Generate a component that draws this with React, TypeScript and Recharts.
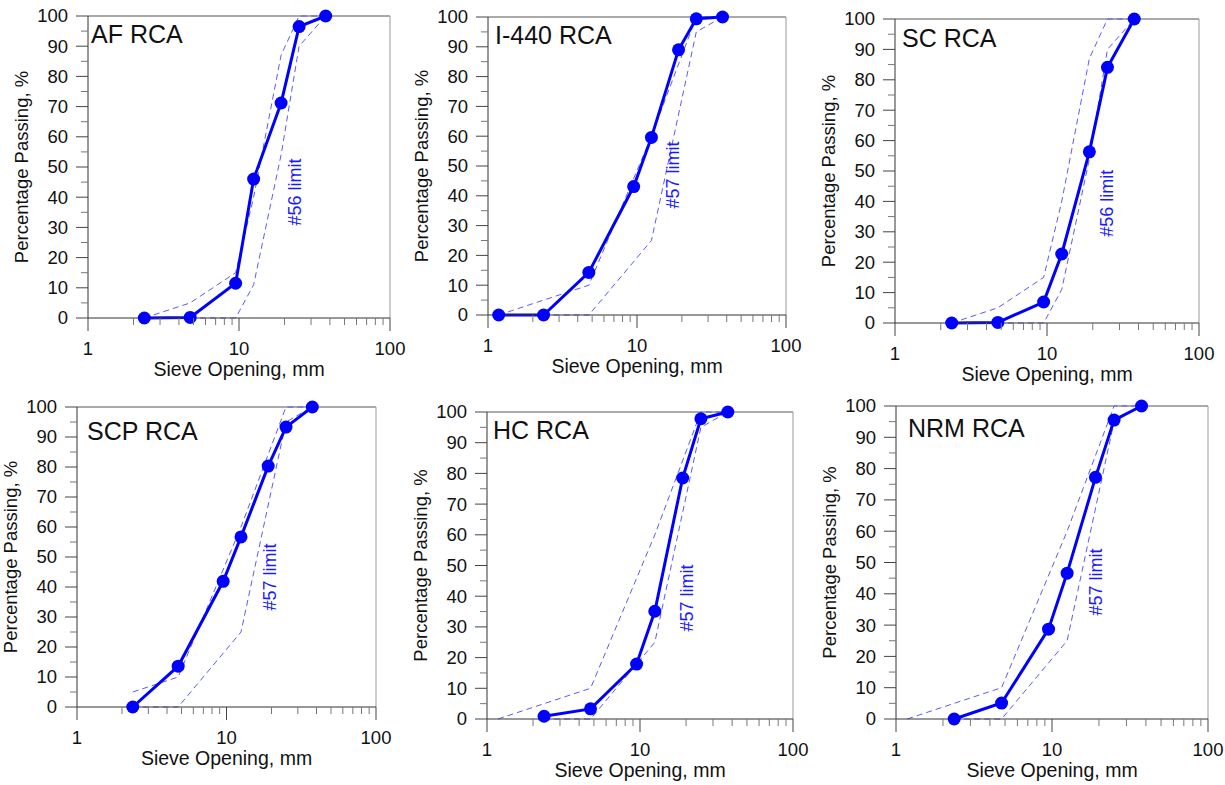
import React from "react";
import {
  LineChart,
  Line,
  XAxis,
  YAxis,
  ReferenceLine,
  ReferenceDot,
} from "recharts";

// sieve sizes, mm
const sieveMm = [1.18, 2.36, 4.75, 9.5, 12.5, 19, 25, 37.5];

// percentage passing per sample (null = not tested)
const afPassing = [null, 0, 0.2, 11.5, 46, 71.2, 96.5, 100];
const i440Passing = [0, 0, 14.3, 43.1, 59.6, 89, 99.4, 100];
const scPassing = [null, 0, 0.2, 6.9, 22.7, 56.3, 84.1, 100];
const scpPassing = [null, 0, 13.6, 41.9, 56.7, 80.3, 93.3, 100];
const hcPassing = [null, 0.9, 3.3, 17.9, 35.1, 78.5, 97.8, 100];
const nrmPassing = [null, 0, 5.1, 28.7, 46.6, 77.2, 95.5, 100];

// gradation limits
const upper56Sieve = [2.36, 4.75, 9.5, 12.5, 19, 25, 37.5];
const upper56 = [0, 5, 15, 40, 87, 100, 100];
const lower56Sieve = [4.75, 9.5, 12.5, 19, 25, 37.5];
const lower56 = [0, 0, 11, 54, 90, 100];

const upper57Sieve = [1.18, 2.36, 4.75, 12.5, 25, 37.5];
const upper57 = [0, 5, 10, 60, 100, 100];
const lower57Sieve = [2.36, 4.75, 12.5, 25, 37.5];
const lower57 = [0, 0, 25, 95, 100];

// axis ticks
const xMajor = [1, 10, 100];
const xMinor = [2, 3, 4, 5, 6, 7, 8, 9, 20, 30, 40, 50, 60, 70, 80, 90];
const yMajor = [0, 10, 20, 30, 40, 50, 60, 70, 80, 90, 100];
const yMinor = [5, 15, 25, 35, 45, 55, 65, 75, 85, 95];

const FONT = '"Liberation Sans", Arial, sans-serif';
const BLUE = "#0000ff";
const LIMIT_BLUE = "#5a5aff";

const toRows = (xs: number[], ys: (number | null)[]) =>
  xs
    .map((x, i) => ({ x, y: ys[i] }))
    .filter((r) => r.y !== null && r.y !== undefined);

const limits: Record<string, { upper: any[]; lower: any[] }> = {
  "56": {
    upper: toRows(upper56Sieve, upper56),
    lower: toRows(lower56Sieve, lower56),
  },
  "57": {
    upper: toRows(upper57Sieve, upper57),
    lower: toRows(lower57Sieve, lower57),
  },
};

// layout: plot box [left, top, width, height], title offset, limit label (data coords)
const panels = [
  { name: "AF RCA", values: afPassing, limit: "56", box: [88, 16, 302, 302], title: [3, 26], tag: [23.5, 41.7], minUpper: 0 },
  { name: "I-440 RCA", values: i440Passing, limit: "57", box: [488, 17, 298, 298], title: [7, 26], tag: [17.4, 47], minUpper: 0 },
  { name: "SC RCA", values: scPassing, limit: "56", box: [895, 19, 304, 304], title: [7, 27], tag: [24.7, 39.4], minUpper: 0 },
  { name: "SCP RCA", values: scpPassing, limit: "57", box: [77, 407, 299, 300], title: [10, 32], tag: [19.5, 43.3], minUpper: 2 },
  { name: "HC RCA", values: hcPassing, limit: "57", box: [487, 412, 306, 307], title: [6, 26], tag: [20.3, 39.4], minUpper: 0 },
  { name: "NRM RCA", values: nrmPassing, limit: "57", box: [896, 406, 312, 313], title: [12, 30], tag: [19.1, 43.8], minUpper: 0 },
];

function XTick(props: any) {
  const { x, y, payload } = props;
  const major = xMajor.includes(payload.value);
  return (
    <g>
      <line x1={x} x2={x} y1={y} y2={y + (major ? 13 : 7)} stroke={major ? "#444" : "#777"} strokeWidth={1} />
      {major && (
        <text x={x} y={y + 31} dy="0.35em" textAnchor="middle" fontSize={18.5} fontFamily={FONT} fill="#111">
          {payload.value}
        </text>
      )}
    </g>
  );
}

function YTick(props: any) {
  const { x, y, payload } = props;
  const major = yMajor.includes(payload.value);
  return (
    <g>
      <line x1={x - (major ? 12 : 7)} x2={x} y1={y} y2={y} stroke={major ? "#444" : "#777"} strokeWidth={1} />
      {major && (
        <text x={x - 20} y={y} dy="0.35em" textAnchor="end" fontSize={18.5} fontFamily={FONT} fill="#111">
          {payload.value}
        </text>
      )}
    </g>
  );
}

function Panel({ p }: { p: (typeof panels)[number] }) {
  const [px, py, pw, ph] = p.box;
  const rows = toRows(sieveMm, p.values);
  const lim = limits[p.limit];
  const upper = lim.upper.filter((r) => r.x >= p.minUpper);
  return (
    <div style={{ position: "absolute", left: px - 80, top: py - 10 }}>
      <LineChart width={pw + 110} height={ph + 80} margin={{ top: 10, right: 30, bottom: 10, left: 0 }}>
        <XAxis
          dataKey="x"
          type="number"
          scale="log"
          domain={[1, 100]}
          ticks={[...xMajor, ...xMinor]}
          interval={0}
          height={60}
          tickSize={0}
          tickMargin={0}
          tickLine={false}
          tick={<XTick />}
          axisLine={{ stroke: "#333" }}
          label={{ value: "Sieve Opening, mm", position: "insideBottom", offset: 2, fontSize: 19.5, fill: "#111", fontFamily: FONT }}
        />
        <YAxis
          dataKey="y"
          type="number"
          domain={[0, 100]}
          ticks={[...yMajor, ...yMinor]}
          interval={0}
          width={80}
          tickSize={0}
          tickMargin={0}
          tickLine={false}
          tick={<YTick />}
          axisLine={{ stroke: "#333" }}
          label={{
            value: "Percentage Passing, %",
            angle: -90,
            position: "insideLeft",
            offset: 13,
            fontSize: 18.5,
            fill: "#111",
            fontFamily: FONT,
            style: { textAnchor: "middle" },
          }}
        />
        <ReferenceLine y={100} stroke="#555" />
        <ReferenceLine x={100} stroke="#999" />
        <Line data={upper} dataKey="y" stroke={LIMIT_BLUE} strokeWidth={1} strokeDasharray="6 4" dot={false} activeDot={false} isAnimationActive={false} />
        <Line data={lim.lower} dataKey="y" stroke={LIMIT_BLUE} strokeWidth={1} strokeDasharray="6 4" dot={false} activeDot={false} isAnimationActive={false} />
        <Line
          data={rows}
          dataKey="y"
          stroke={BLUE}
          strokeWidth={3}
          dot={{ r: 6.5, fill: BLUE, stroke: BLUE, strokeWidth: 0 }}
          activeDot={false}
          isAnimationActive={false}
        />
        <ReferenceDot
          x={p.tag[0]}
          y={p.tag[1]}
          r={0}
          shape={(s: any) => (
            <text
              x={s.cx}
              y={s.cy}
              dy="0.35em"
              textAnchor="middle"
              transform={`rotate(-90 ${s.cx} ${s.cy})`}
              fontSize={18}
              fontFamily={FONT}
              fill="#1a1aff"
            >
              {`#${p.limit} limit`}
            </text>
          )}
        />
      </LineChart>
      <div
        style={{
          position: "absolute",
          left: 80 + p.title[0],
          top: 10 + p.title[1] - 20,
          fontFamily: FONT,
          fontSize: 25,
          lineHeight: "24px",
          color: "#111",
          whiteSpace: "nowrap",
        }}
      >
        {p.name}
      </div>
    </div>
  );
}

export default function App() {
  return (
    <div style={{ position: "absolute", left: 0, top: 0, width: 1225, height: 785, background: "#fff", overflow: "hidden" }}>
      {panels.map((p) => (
        <Panel key={p.name} p={p} />
      ))}
    </div>
  );
}
